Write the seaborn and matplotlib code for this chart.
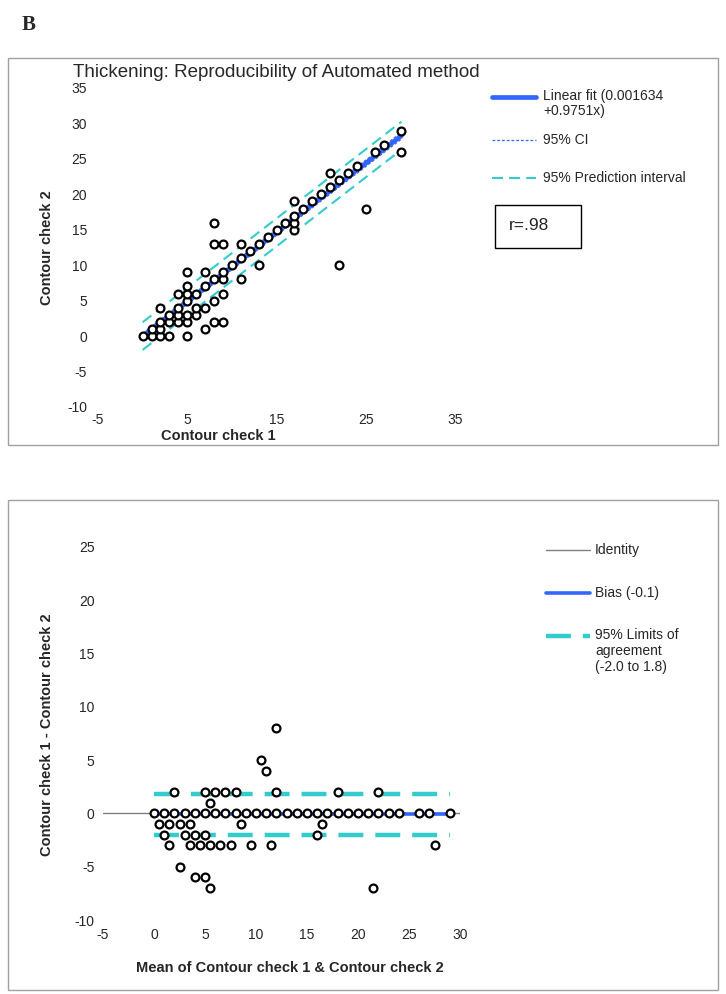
import matplotlib
matplotlib.use("Agg")
import matplotlib.pyplot as plt
import seaborn as sns
import pandas as pd
from matplotlib.lines import Line2D
from matplotlib.patches import Rectangle

# Panel 1: contour check 1 vs contour check 2
check1 = [0, 1, 1, 2, 2, 2, 2, 3, 3, 3, 4, 4, 4, 4, 5, 5, 5, 5, 5, 5, 5,
          6, 6, 6, 7, 7, 7, 7, 8, 8, 8, 8, 8, 9, 9, 9, 9, 9, 10, 11, 11, 11,
          12, 13, 13, 14, 15, 16, 17, 17, 17, 17, 18, 19, 20, 21, 21, 22, 22,
          23, 24, 25, 26, 27, 29, 29]
check2 = [0, 0, 1, 0, 1, 2, 4, 0, 2, 3, 2, 3, 4, 6, 0, 2, 3, 5, 6, 7, 9,
          3, 4, 6, 1, 4, 7, 9, 2, 5, 8, 13, 16, 2, 6, 8, 9, 13, 10, 8, 11, 13,
          12, 10, 13, 14, 15, 16, 15, 16, 17, 19, 18, 19, 20, 21, 23, 10, 22,
          23, 24, 18, 26, 27, 26, 29]

fit_x = [0, 29]
fit_y = [0.001634, 28.28]
ci_low = [-0.35, 27.8]
ci_high = [0.35, 28.75]
pi_low = [-1.95, 26.3]
pi_high = [1.95, 30.25]

# Panel 2: Bland-Altman
ba_mean = [0, 0.5, 1, 1, 1.5, 2, 2, 1.5, 2.5, 3, 3, 3.5, 4, 5, 2.5, 3.5, 4, 5, 5.5, 6, 7,
           4.5, 5, 6, 4, 5.5, 7, 8, 5, 6.5, 8, 10.5, 12, 5.5, 7.5, 8.5, 9, 11, 10, 9.5, 11, 12,
           12, 11.5, 13, 14, 15, 16, 16, 16.5, 17, 18, 18, 19, 20, 21, 22, 22,
           23, 24, 21.5, 26, 27, 27.5, 29]
ba_diff = [0, -1, 0, -2, -1, 0, 2, -3, -1, 0, -2, -1, 0, 2, -5, -3, -2, 0, 1, 2, 2,
           -3, -2, 0, -6, -3, 0, 2, -6, -3, 0, 5, 8, -7, -3, -1, 0, 4, 0, -3, 0, 2,
           0, -3, 0, 0, 0, 0, -2, -1, 0, 2, 0, 0, 0, 0, 2, 0,
           0, 0, -7, 0, 0, -3, 0]
bias = -0.1
loa_low = -2.0
loa_high = 1.8
line_x = [0, 29]
identity_x = [-5, 30]

BLUE = "#3366ff"
CYAN = "#33cccc"
GRAY = "#808080"
PI_DASH = (0, (5.3, 2.9))
CI_DASH = (0, (2.2, 1.6))
LOA_DASH = (0, (5.6, 2.7))

sns.set_style("white")
plt.rcParams["font.family"] = ["Liberation Sans", "DejaVu Sans"]
plt.rcParams["axes.unicode_minus"] = False

fig = plt.figure(figsize=(7.26, 9.94), dpi=100)
W, H = 726, 994


def fx(px):
    return px / W


def fy(py):
    return 1 - py / H


# panel frames
fig.add_artist(Rectangle((fx(8), fy(445)), fx(710), (445 - 58) / H, transform=fig.transFigure,
                         fill=False, edgecolor="#a0a0a0", linewidth=1))
fig.add_artist(Rectangle((fx(8), fy(990)), fx(710), (990 - 500) / H, transform=fig.transFigure,
                         fill=False, edgecolor="#a0a0a0", linewidth=1))
fig.text(fx(22), fy(25), "B", fontsize=15, fontweight="bold", family="Liberation Serif",
         va="center", ha="left")

# ---------- top panel ----------
ax1 = fig.add_axes([fx(98), fy(407), fx(357), (407 - 88) / H])
top = pd.DataFrame({"c1": check1, "c2": check2})
sns.lineplot(x=line_x, y=pi_high, ax=ax1, color=CYAN, linewidth=1.5, linestyle=PI_DASH)
sns.lineplot(x=line_x, y=pi_low, ax=ax1, color=CYAN, linewidth=1.5, linestyle=PI_DASH)
sns.lineplot(x=fit_x, y=fit_y, ax=ax1, color=BLUE, linewidth=3.4)
sns.lineplot(x=fit_x, y=ci_low, ax=ax1, color=BLUE, linewidth=0.9, linestyle=CI_DASH)
sns.lineplot(x=fit_x, y=ci_high, ax=ax1, color=BLUE, linewidth=0.9, linestyle=CI_DASH)
sns.scatterplot(data=top, x="c1", y="c2", ax=ax1, marker="o", s=32, color="white",
                edgecolor="black", linewidth=1.6, zorder=5)
ax1.set_xlim(-5, 35)
ax1.set_ylim(-10, 35)
ax1.set_xticks(range(-5, 36, 10))
ax1.set_yticks(range(-10, 36, 5))
ax1.set_xlabel("")
ax1.set_ylabel("")
ax1.tick_params(axis="y", length=0, labelsize=10, pad=8)
ax1.tick_params(axis="x", length=0, labelsize=10, pad=4)
sns.despine(ax=ax1, left=True, bottom=True)
ax1.set_title("Thickening: Reproducibility of Automated method", fontsize=13.5, pad=8)
fig.text(fx(218), fy(436), "Contour check 1", fontsize=10.5, fontweight="bold",
         ha="center", va="center")
fig.text(fx(47), fy(248), "Contour check 2", fontsize=10.5, fontweight="bold",
         ha="center", va="center", rotation=90)

# legend, top
fig.add_artist(Line2D([fx(492), fx(536)], [fy(97), fy(97)], color=BLUE, linewidth=3.4))
fig.text(fx(543), fy(89), "Linear fit (0.001634\n+0.9751x)", fontsize=10, va="top",
         linespacing=1.1)
fig.add_artist(Line2D([fx(492), fx(536)], [fy(140), fy(140)], color=BLUE, linewidth=0.9,
                      linestyle=CI_DASH))
fig.text(fx(543), fy(140), "95% CI", fontsize=10, va="center")
fig.add_artist(Line2D([fx(492), fx(536)], [fy(178), fy(178)], color=CYAN, linewidth=1.5,
                      linestyle=PI_DASH))
fig.text(fx(543), fy(178), "95% Prediction interval", fontsize=10, va="center")
fig.add_artist(Rectangle((fx(495), fy(248)), fx(86), 43 / H, transform=fig.transFigure,
                         fill=False, edgecolor="black", linewidth=1))
fig.text(fx(509), fy(226), "r=.98", fontsize=12.5, va="center")

# ---------- bottom panel ----------
ax2 = fig.add_axes([fx(103), fy(920), fx(357), (920 - 547) / H])
bottom = pd.DataFrame({"mean": ba_mean, "diff": ba_diff})
sns.lineplot(x=identity_x, y=[0, 0], ax=ax2, color=GRAY, linewidth=1)
sns.lineplot(x=line_x, y=[bias, bias], ax=ax2, color=BLUE, linewidth=2.6)
sns.lineplot(x=line_x, y=[loa_high, loa_high], ax=ax2, color=CYAN, linewidth=3.2,
             linestyle=LOA_DASH)
sns.lineplot(x=line_x, y=[loa_low, loa_low], ax=ax2, color=CYAN, linewidth=3.2,
             linestyle=LOA_DASH)
sns.scatterplot(data=bottom, x="mean", y="diff", ax=ax2, marker="o", s=32, color="white",
                edgecolor="black", linewidth=1.6, zorder=5)
ax2.set_xlim(-5, 30)
ax2.set_ylim(-10, 25)
ax2.set_xticks(range(-5, 31, 5))
ax2.set_yticks(range(-10, 26, 5))
ax2.set_xlabel("")
ax2.set_ylabel("")
ax2.tick_params(length=0, labelsize=10, pad=6)
sns.despine(ax=ax2, left=True, bottom=True)
fig.text(fx(290), fy(968), "Mean of Contour check 1 & Contour check 2", fontsize=10.5,
         fontweight="bold", ha="center", va="center")
fig.text(fx(47), fy(735), "Contour check 1 - Contour check 2", fontsize=10.5,
         fontweight="bold", ha="center", va="center", rotation=90)

# legend, bottom
fig.add_artist(Line2D([fx(546), fx(590)], [fy(550), fy(550)], color=GRAY, linewidth=1))
fig.text(fx(595), fy(550), "Identity", fontsize=10, va="center")
fig.add_artist(Line2D([fx(546), fx(590)], [fy(593), fy(593)], color=BLUE, linewidth=2.6))
fig.text(fx(595), fy(593), "Bias (-0.1)", fontsize=10, va="center")
fig.add_artist(Line2D([fx(546), fx(590)], [fy(636), fy(636)], color=CYAN, linewidth=3.2,
                      linestyle=LOA_DASH))
fig.text(fx(595), fy(628), "95% Limits of\nagreement\n(-2.0 to 1.8)", fontsize=10,
         va="top", linespacing=1.2)

fig.savefig("out.png", dpi=100)
